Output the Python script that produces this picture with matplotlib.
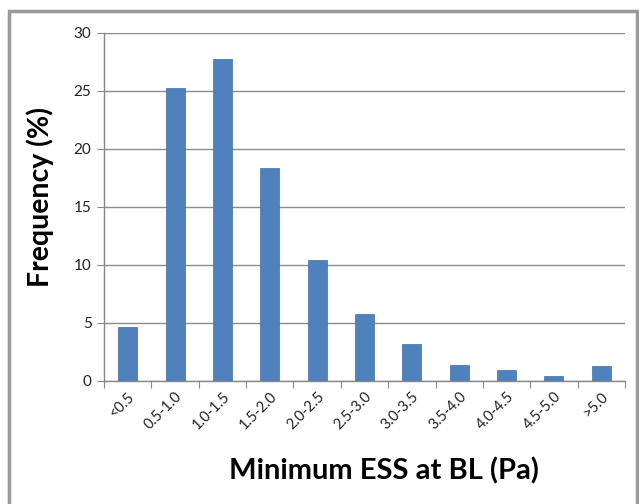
import matplotlib
matplotlib.use("Agg")
import matplotlib.pyplot as plt
from matplotlib.patches import Rectangle

categories = ["<0.5", "0.5-1.0", "1.0-1.5", "1.5-2.0", "2.0-2.5", "2.5-3.0",
              "3.0-3.5", "3.5-4.0", "4.0-4.5", "4.5-5.0", ">5.0"]
frequency = [4.65, 25.3, 27.8, 18.4, 10.4, 5.8, 3.2, 1.4, 0.95, 0.45, 1.3]
yticks = [0, 5, 10, 15, 20, 25, 30]

plt.rcParams['font.family'] = ['Lato', 'DejaVu Sans']

fig = plt.figure(figsize=(6.39, 5.04), dpi=100)
fig.patches.append(Rectangle((9/639, -6/504), 628/639, 499/504, transform=fig.transFigure,
                             fill=False, edgecolor='#9a9a9a', linewidth=2.5))

ax = fig.add_axes([104/639, 1-381/504, (625-104)/639, (381-33)/504])
x = list(range(len(categories)))
ax.bar(x, frequency, width=0.4, color='#4f81bd', edgecolor='#3f6fa8', linewidth=0.5, zorder=3)

ax.set_xlim(-0.5, len(categories)-0.5)
ax.set_ylim(0, 30)
ax.set_yticks(yticks)
ax.set_yticklabels([str(v) for v in yticks], fontsize=11, color='#222222')
ax.set_xticks([i - 0.5 for i in range(len(categories)+1)])
ax.set_xticklabels([])
ax.set_xticks(x, minor=True)
ax.set_xticklabels(categories, minor=True, rotation=45, ha='right', va='top',
                   rotation_mode='anchor', fontsize=10.5, color='#222222')
ax.tick_params(axis='x', which='minor', length=0, pad=6)
ax.tick_params(axis='x', which='major', length=5, color='#888888', direction='out')
ax.tick_params(axis='y', length=5, color='#888888', direction='out', pad=4)

ax.yaxis.grid(True, color='#8c8c8c', linewidth=1, zorder=0)
ax.set_axisbelow(True)
for s in ['top', 'right']:
    ax.spines[s].set_visible(False)
for s in ['left', 'bottom']:
    ax.spines[s].set_color('#888888')
    ax.spines[s].set_linewidth(1)

fig.text(40/639, 1-197/504, "Frequency (%)", rotation=90, ha='center', va='center',
         fontsize=20.5, fontweight='bold', color='black')
fig.text(384/639, 1-471/504, "Minimum ESS at BL (Pa)", ha='center', va='center',
         fontsize=21, fontweight='bold', color='black')

fig.savefig("out.png", dpi=100)
